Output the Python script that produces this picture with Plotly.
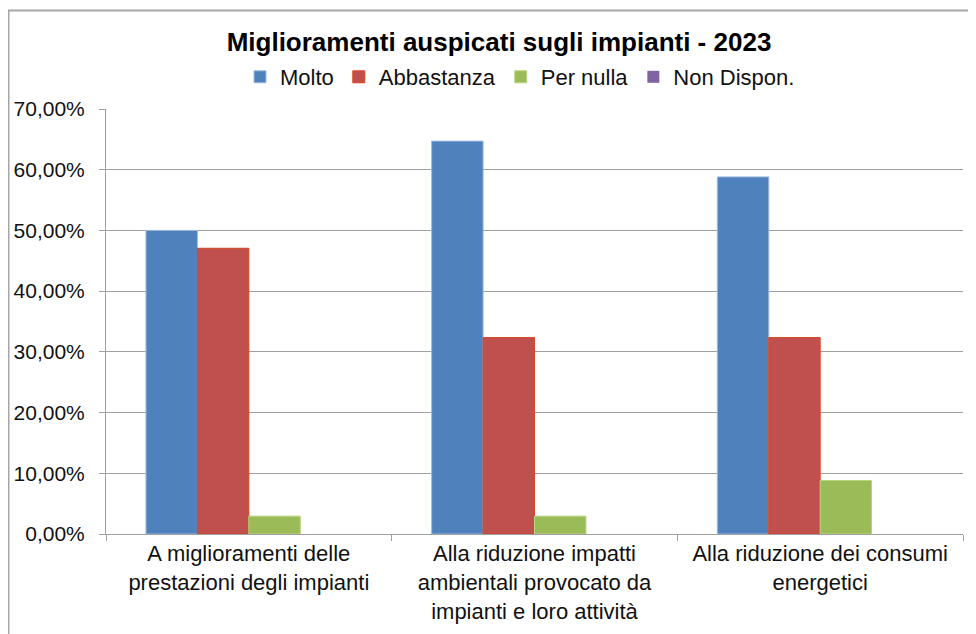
import plotly.graph_objects as go

categories = [
    "A miglioramenti delle<br>prestazioni degli impianti",
    "Alla riduzione impatti<br>ambientali provocato da<br>impianti e loro attività",
    "Alla riduzione dei consumi<br>energetici",
]
series_names = ["Molto", "Abbastanza", "Per nulla", "Non Dispon."]
molto = [0.5000, 0.6471, 0.5882]
abbastanza = [0.4706, 0.3235, 0.3235]
per_nulla = [0.0294, 0.0294, 0.0882]
non_dispon = [0.0, 0.0, 0.0]
y_tick_values = [0, 0.1, 0.2, 0.3, 0.4, 0.5, 0.6, 0.7]

series_values = [molto, abbastanza, per_nulla, non_dispon]
fill_colors = ["#4F81BD", "#C0504D", "#9BBB59", "#8064A2"]
edge_colors = ["#9DB9DD", "#D9431F", "#B7D57C", "#8064A2"]
edge_widths = [1, 1, 1, 0]

FONT = "Liberation Sans, Arial, sans-serif"

fig = go.Figure()
for name, vals, fc, ec, ew in zip(series_names, series_values, fill_colors, edge_colors, edge_widths):
    fig.add_trace(go.Bar(
        name=name, x=categories, y=vals,
        marker=dict(color=fc, line=dict(color=ec, width=ew)),
    ))

W, H = 976, 634
L, R, T, B = 98, 21, 101, 108
pw = W - L - R
ph = H - T - B

fig.update_layout(
    width=W, height=H,
    margin=dict(l=L, r=R, t=T, b=B, autoexpand=False),
    paper_bgcolor="white", plot_bgcolor="white",
    separators=",.",
    barmode="group", bargap=0.28, bargroupgap=0,
    font=dict(family=FONT, size=21, color="#111111"),
    title=dict(
        text="<b>Miglioramenti auspicati sugli impianti - 2023</b>",
        x=491 / W, xref="container", xanchor="center",
        y=1 - 34 / H, yref="container", yanchor="middle",
        font=dict(family=FONT, size=26, color="#000000"),
    ),
    legend=dict(
        orientation="h",
        x=(512 - L) / pw, xanchor="center",
        y=1 + (T - 69) / ph, yanchor="middle",
        font=dict(family=FONT, size=22, color="#111111"),
        bgcolor="rgba(0,0,0,0)",
        itemclick=False,
    ),
    showlegend=True,
    xaxis=dict(
        automargin=False,
        showline=True, linecolor="#A0A0A0", linewidth=1,
        ticks="outside", ticklen=6, tickcolor="#A0A0A0",
        tickson="boundaries",
        showgrid=False,
        tickfont=dict(family=FONT, size=22, color="#111111"),
    ),
    yaxis=dict(
        automargin=False,
        range=[0, 0.7],
        tickvals=y_tick_values,
        tickformat=".2%",
        showline=True, linecolor="#A0A0A0", linewidth=1,
        ticks="outside", ticklen=6, tickcolor="#A0A0A0",
        ticklabelstandoff=10,
        showgrid=True, gridcolor="#A0A0A0", gridwidth=1,
        zeroline=False,
        tickfont=dict(family=FONT, size=21, color="#111111"),
    ),
    shapes=[dict(
        type="rect", xref="paper", yref="paper",
        x0=(0.5 - L) / pw, x1=1.5,
        y0=-1, y1=1 + (T - 2.5) / ph,
        line=dict(color="#A6A6A6", width=2),
        fillcolor="rgba(0,0,0,0)", layer="below",
    )],
)

fig.write_html("out.html")
